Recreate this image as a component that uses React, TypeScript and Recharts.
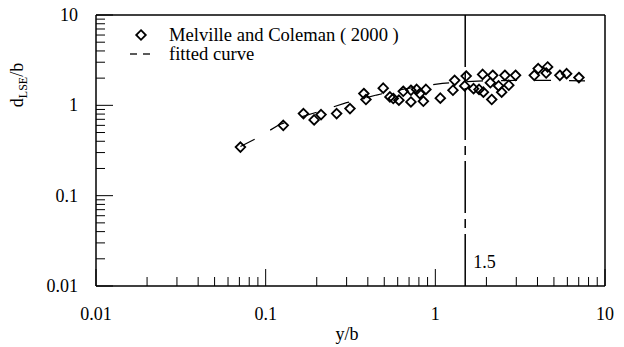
import {
  ScatterChart, Scatter, XAxis, YAxis, ReferenceLine, Legend,
} from "recharts";

const FONT = '"Liberation Serif", "Times New Roman", serif';

// Melville and Coleman (2000) measurements
const measuredX = [
  0.071, 0.127, 0.167, 0.193, 0.212, 0.262, 0.314, 0.379, 0.39, 0.493,
  0.54, 0.565, 0.61, 0.647, 0.718, 0.718, 0.776, 0.81, 0.85, 0.88,
  1.07, 1.27, 1.3, 1.49, 1.52, 1.68, 1.81, 1.9, 1.92, 2.11,
  2.15, 2.18, 2.36, 2.46, 2.57, 2.71, 2.97, 3.83, 4.04, 4.5,
  4.59, 5.42, 5.94, 7.02,
];
const measuredY = [
  0.345, 0.6, 0.81, 0.69, 0.79, 0.81, 0.92, 1.35, 1.16, 1.55,
  1.24, 1.19, 1.14, 1.43, 1.47, 1.09, 1.5, 1.35, 1.11, 1.5,
  1.2, 1.47, 1.89, 1.64, 2.11, 1.53, 1.5, 2.2, 1.4, 1.78,
  1.16, 2.15, 1.64, 1.4, 2.15, 1.67, 2.15, 2.15, 2.55, 2.28,
  2.66, 2.15, 2.24, 2.03,
];

// fitted curve
const fitX = [0.071, 0.09, 0.12, 0.16, 0.2, 0.3, 0.45, 0.6, 0.8, 1.1, 1.5, 2, 3, 5, 8];
const fitY = [0.35, 0.44, 0.61, 0.74, 0.84, 1.07, 1.3, 1.47, 1.62, 1.75, 1.83, 1.87, 1.89, 1.89, 1.86];

const xTicks = [
  0.01, 0.02, 0.03, 0.04, 0.05, 0.06, 0.07, 0.08, 0.09,
  0.1, 0.2, 0.3, 0.4, 0.5, 0.6, 0.7, 0.8, 0.9,
  1, 2, 3, 4, 5, 6, 7, 8, 9, 10,
];
const yTicks = xTicks;
const decadeTicks = [0.01, 0.1, 1, 10];
const decadeLabels = ["0.01", "0.1", "1", "10"];
const markerX = 1.5;

const measured = measuredX.map((x, i) => ({ x, y: measuredY[i] }));
const fitted = fitX.map((x, i) => ({ x, y: fitY[i] }));

function labelFor(v: number) {
  const i = decadeTicks.findIndex((d) => Math.abs(d - v) < d * 1e-6);
  return i >= 0 ? decadeLabels[i] : null;
}

function XTick({ x, y, payload }: any) {
  const label = labelFor(payload.value);
  return (
    <g>
      <line x1={x} x2={x} y1={y} y2={y - (label ? 17 : 9)} stroke="#000" strokeWidth={1} />
      {label && (
        <text x={x} y={y + 34} textAnchor="middle" fontFamily={FONT} fontSize={18} fill="#000">
          {label}
        </text>
      )}
    </g>
  );
}

function YTick({ x, y, payload }: any) {
  const label = labelFor(payload.value);
  return (
    <g>
      <line x1={x} x2={x + (label ? 17 : 9)} y1={y} y2={y} stroke="#000" strokeWidth={1} />
      {label && (
        <text x={x - 18} y={y + 6} textAnchor="end" fontFamily={FONT} fontSize={18} fill="#000">
          {label}
        </text>
      )}
    </g>
  );
}

function Diamond({ cx, cy }: any) {
  const r = 4.8;
  return (
    <path
      d={`M${cx},${cy - r}L${cx + r},${cy}L${cx},${cy + r}L${cx - r},${cy}Z`}
      fill="none" stroke="#000" strokeWidth={1.8}
    />
  );
}

function LegendBox() {
  return (
    <svg width={320} height={50} style={{ display: "block" }}>
      <Diamond cx={21} cy={15} />
      <text x={49} y={21} fontFamily={FONT} fontSize={18.6} fill="#000">Melville and Coleman ( 2000 )</text>
      <line x1={10} x2={17} y1={34} y2={34} stroke="#000" strokeWidth={1.3} />
      <line x1={23} x2={30} y1={34} y2={34} stroke="#000" strokeWidth={1.3} />
      <text x={49} y={40} fontFamily={FONT} fontSize={18.6} fill="#000">fitted curve</text>
    </svg>
  );
}

export default function App() {
  return (
    <div style={{ position: "absolute", left: 0, top: 0, background: "#fff" }}>
      <ScatterChart width={624} height={347} margin={{ top: 15, right: 19, bottom: 0, left: 0 }}>
        <XAxis
          dataKey="x" type="number" scale="log" domain={[0.01, 10]} allowDataOverflow
          ticks={xTicks} interval={0} tickSize={0} tickMargin={0} tickLine={false}
          axisLine={{ stroke: "#000", strokeWidth: 1.5 }}
          tick={<XTick />} height={61}
          label={() => (
            <text x={347} y={340} textAnchor="middle" fontFamily={FONT} fontSize={18} fill="#000">y/b</text>
          )}
        />
        <YAxis
          dataKey="y" type="number" scale="log" domain={[0.01, 10]} allowDataOverflow
          ticks={yTicks} interval={0} tickSize={0} tickMargin={0} tickLine={false}
          axisLine={{ stroke: "#000", strokeWidth: 1.5 }}
          tick={<YTick />} width={96}
          label={() => (
            <text transform="translate(23,85) rotate(-90)" textAnchor="middle" fontFamily={FONT} fontSize={18} fill="#000">
              d<tspan fontSize={12} dy={4}>LSE</tspan><tspan dy={-4}>/b</tspan>
            </text>
          )}
        />
        <ReferenceLine y={10} stroke="#000" strokeWidth={1.5} />
        <ReferenceLine x={10} stroke="#000" strokeWidth={1.5} />
        <ReferenceLine
          x={markerX} stroke="#000" strokeWidth={1.5} strokeDasharray="52 6 9 6"
          label={(p: any) => {
            const vb = p.viewBox || {};
            return (
              <text x={(vb.x ?? 0) + 8} y={(vb.y ?? 0) + (vb.height ?? 0) - 18} fontFamily={FONT} fontSize={18} fill="#000">
                1.5
              </text>
            );
          }}
        />
        <Scatter
          data={fitted} isAnimationActive={false} legendType="none"
          line={{ stroke: "#000", strokeWidth: 1.2, strokeDasharray: "16 18" }}
          lineType="joint" shape={() => <g />}
        />
        <Scatter data={measured} isAnimationActive={false} shape={<Diamond />} />
        <Legend
          layout="horizontal" verticalAlign="middle" align="center"
          wrapperStyle={{ left: 120, top: 20, width: 320, height: 50 }}
          content={() => <LegendBox />}
        />
      </ScatterChart>
    </div>
  );
}
